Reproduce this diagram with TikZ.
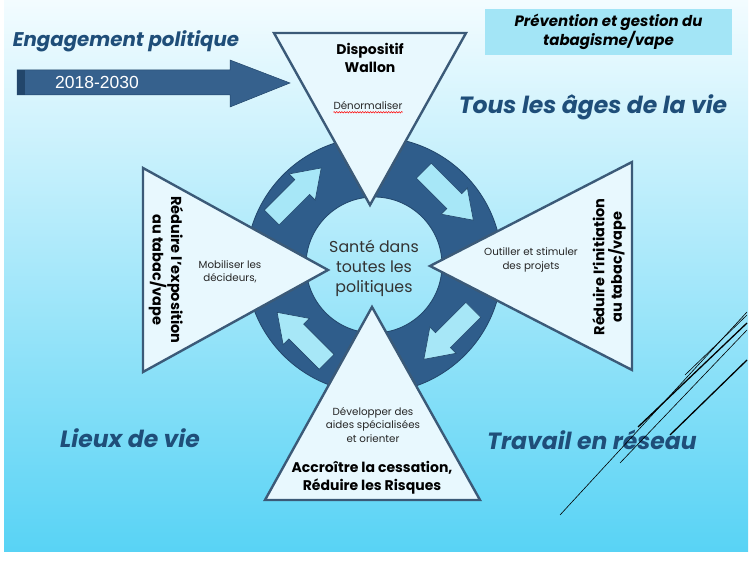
\documentclass[tikz,border=0pt]{standalone}
\usepackage{fontspec}
\setmainfont{Poppins}
\newfontfamily\arialfont{Liberation Sans}
\usepackage{tikz}
\usetikzlibrary{positioning,calc,decorations.pathmorphing}
\definecolor{bgtop}{HTML}{F3FCFF}
\definecolor{bgbot}{HTML}{58D3F5}
\definecolor{ringblue}{HTML}{2F5D8B}
\definecolor{ringedge}{HTML}{22466B}
\definecolor{trifill}{HTML}{E8F8FE}
\definecolor{triedge}{HTML}{3B5A78}
\definecolor{arrowfill}{HTML}{A7E7F7}
\definecolor{titleblue}{HTML}{1F4E79}
\definecolor{boxfill}{HTML}{A3E5F6}
\definecolor{bigarrow}{HTML}{36618D}

\begin{document}
\begin{tikzpicture}[x=1pt, y=1pt,
          tri/.style = {fill=trifill, draw=triedge, line width=2.4pt, line join=miter},
          ringarrow/.pic = {\draw[fill=arrowfill, draw=ringedge, line width=0.6pt]
                  (-35,-10.5) -- (8,-10.5) -- (8,-18.5) -- (35,0) -- (8,18.5) -- (8,10.5) -- (-35,10.5) -- cycle;},
          big/.style = {font=\bfseries\itshape\fontsize{23.5}{26}\selectfont, text=titleblue, inner sep=0pt},
          head/.style = {font=\bfseries\fontsize{14}{17.5}\selectfont, align=center, inner sep=0pt},
          small/.style = {font=\fontsize{10.3}{13.5}\selectfont, align=center, inner sep=0pt, text=black!85},
          thin/.style = {line width=0.6pt},
          thick2/.style = {line width=1.3pt},
        ]
        \useasboundingbox (0,0) rectangle (752,562);
        \fill[white] (0,0) rectangle (752,562);
        \shade[top color=bgtop, bottom color=bgbot] (4,10) rectangle (748,562);

        % ring with its four arrows
        \coordinate (C) at (374,297);
        \fill[ringblue, even odd rule, draw=ringedge, line width=0.8pt]
             (C) circle[radius=128] (C) circle[radius=68];
        \pic[rotate=45]  at ($(C)+(137:106)$) {ringarrow};
        \pic[rotate=-45] at ($(C)+(43:102)$)  {ringarrow};
        \pic[rotate=225] at ($(C)+(-43:102)$) {ringarrow};
        \pic[rotate=135] at ($(C)+(-135:102)$) {ringarrow};

        % four triangles
        \draw[tri] (274,529) -- (466,529) -- (370,357) -- cycle;
        \draw[tri] (143,394) -- (143,190) -- (328,292) -- cycle;
        \draw[tri] (632,400) -- (632,192) -- (430,296) -- cycle;
        \draw[tri] (265,62) -- (480,62) -- (372,255) -- cycle;

        % big arrow
        \draw[fill=bigarrow, draw=ringedge, line width=0.5pt]
             (17,492) -- (230,492) -- (230,502) -- (290,479) -- (230,455) -- (230,467) -- (17,467) -- cycle;
        \fill[ringedge] (17,467) rectangle (25,492);
        \node[font=\arialfont\fontsize{17.5}{20}\selectfont, text=white, inner sep=0pt] (period) at (97,480) {2018-2030};

        % titles
        \node[big, font=\bfseries\itshape\fontsize{19.8}{24}\selectfont] (title) at (126,521) {Engagement politique};
        \node[big] (ages)   at (593,455) {Tous les âges de la vie};
        \node[big] (lieux)  at (130,124) {Lieux de vie};
        \node[big] (reseau) at (592,122) {Travail en réseau};
        \node[fill=boxfill, minimum width=247, minimum height=46, inner sep=0pt, align=center,
              font=\bfseries\itshape\fontsize{15}{19.5}\selectfont] (prev) at (608.5,530)
             {Prévention et gestion du\\tabagisme/vape};

        % texts in the triangles
        \node[head] (disp) at (370,504) {Dispositif\\Wallon};
        \node[small] (denorm) at (368,456) {Dénormaliser};
        \draw[red, line width=0.5pt, decorate, decoration={snake, amplitude=0.7, segment length=2.6}]
             ([yshift=-2]denorm.south west) -- ([yshift=-2]denorm.south east);
        \node[small] (mobil) at (230,290) {Mobiliser les\\décideurs,};
        \node[head, rotate=-90, font=\bfseries\fontsize{14.5}{17.5}\selectfont] (expo) at (166,292)
             {Réduire l'exposition\\au tabac/vape};
        \node[small] (outil) at (531,302) {Outiller et stimuler\\des projets};
        \node[head, rotate=90, font=\bfseries\fontsize{14.5}{17.5}\selectfont] (initi) at (609,295)
             {Réduire l'initiation\\au tabac/vape};
        \node[small] (devel) at (373,137) {Développer des\\aides spécialisées\\et orienter};
        \node[head] (cess) at (372,84) {Accroître la cessation,\\Réduire les Risques};
        \node[font=\fontsize{15.8}{20}\selectfont, align=center, inner sep=0pt, text=black!80] (sante)
             at (374,294) {Santé dans\\toutes les\\politiques};

        % lines at the bottom right
        \draw[thin]   (560,47)  -- (747,250);
        \draw[thick2] (638,135) -- (747,239);
        \draw[thin]   (620,99)  -- (747,232);
        \draw[thin]   (685,187) -- (747,247);
        \draw[thick2] (670,127) -- (747,202);
      \end{tikzpicture}
\end{document}
